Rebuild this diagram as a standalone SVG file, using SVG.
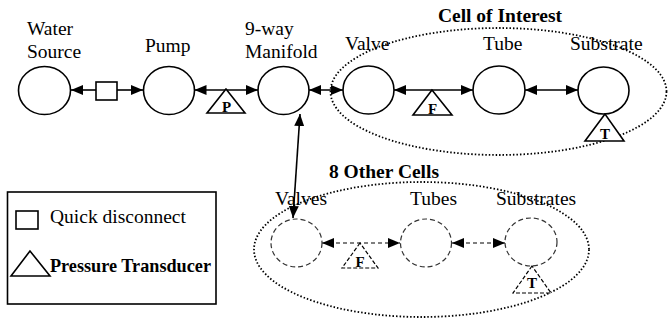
<svg xmlns="http://www.w3.org/2000/svg" width="668" height="322" viewBox="0 0 668 322">
<defs>
<marker id="ah" viewBox="0 0 12 10" refX="12" refY="5" markerWidth="12" markerHeight="10" markerUnits="userSpaceOnUse" orient="auto-start-reverse">
<path d="M0,0 L12,5 L0,10 Z" fill="#000"/>
</marker>
</defs>
<style>
.lbl{font-family:"Liberation Serif","Times New Roman",serif;font-size:19.5px;fill:#000}
.bold{font-family:"Liberation Serif","Times New Roman",serif;font-size:19.5px;font-weight:bold;fill:#000}
.sym{font-family:"Liberation Serif","Times New Roman",serif;font-size:15px;font-weight:bold;fill:#000;text-anchor:middle}
.node{fill:#fff;stroke:#000;stroke-width:1.6}
.dnode{fill:#fff;stroke:#333;stroke-width:1.2;stroke-dasharray:5 3}
.conn{stroke:#000;stroke-width:1.6;fill:none;marker-start:url(#ah);marker-end:url(#ah)}
.dconn{stroke:#000;stroke-width:1.2;fill:none;stroke-dasharray:4 3;marker-start:url(#ah);marker-end:url(#ah)}
.group{fill:none;stroke:#000;stroke-width:1.8;stroke-dasharray:1.5 2}
.tri{fill:#fff;stroke:#000;stroke-width:1.6}
.dtri{fill:#fff;stroke:#000;stroke-width:1.2;stroke-dasharray:4 2}
</style>
<rect width="668" height="322" fill="#fff"/>

<g id="cell-of-interest">
<ellipse class="group" cx="498.5" cy="91.5" rx="168" ry="63.5"/>
<text class="bold" x="500" y="22" text-anchor="middle">Cell of Interest</text>
</g>
<g id="other-cells">
<ellipse class="group" cx="421.5" cy="249.5" rx="167.5" ry="67.5"/>
<text class="bold" x="384" y="178" text-anchor="middle">8 Other Cells</text>
</g>

<g id="connectors">
<line x1="71" y1="90" x2="96" y2="90" stroke="#000" stroke-width="1.6" marker-start="url(#ah)"/>
<line x1="117" y1="90" x2="143" y2="90" stroke="#000" stroke-width="1.6" marker-end="url(#ah)"/>
<line class="conn" x1="194.5" y1="90" x2="258" y2="90"/>
<line class="conn" x1="309" y1="90" x2="343" y2="90"/>
<line class="conn" x1="394" y1="90" x2="473" y2="90"/>
<line class="conn" x1="525" y1="90" x2="578" y2="90"/>
<line class="conn" x1="300" y1="114" x2="293" y2="218"/>
<line class="dconn" x1="322" y1="243" x2="400" y2="243"/>
<line class="dconn" x1="452" y1="243" x2="505" y2="243"/>
</g>

<g id="water-source">
<ellipse class="node" cx="44.5" cy="90.5" rx="26" ry="24"/>
<text class="lbl" x="27" y="35">Water</text>
<text class="lbl" x="27" y="58">Source</text>
</g>
<g id="quick-disconnect">
<rect class="node" x="96" y="82" width="21" height="18"/>
</g>
<g id="pump">
<ellipse class="node" cx="169" cy="90.5" rx="25.5" ry="24"/>
<text class="lbl" x="145" y="52">Pump</text>
</g>
<g id="pressure-transducer">
<polygon class="tri" points="226,89 207,113 245,113"/>
<text class="sym" x="226.5" y="112">P</text>
</g>
<g id="manifold">
<ellipse class="node" cx="283.5" cy="90.5" rx="25.5" ry="24"/>
<text class="lbl" x="245" y="35">9-way</text>
<text class="lbl" x="245" y="58">Manifold</text>
</g>
<g id="valve">
<ellipse class="node" cx="368.5" cy="90" rx="25.5" ry="24"/>
<text class="lbl" x="345" y="50">Valve</text>
</g>
<g id="flow-meter">
<polygon class="tri" points="432,90 413,115 452,115"/>
<text class="sym" x="432.5" y="113.5">F</text>
</g>
<g id="tube">
<ellipse class="node" cx="499" cy="90" rx="26" ry="24"/>
<text class="lbl" x="483" y="50">Tube</text>
</g>
<g id="substrate">
<ellipse class="node" cx="603.5" cy="90.5" rx="25.5" ry="23.5"/>
<text class="lbl" x="570" y="50">Substrate</text>
</g>
<g id="temperature">
<polygon class="tri" points="605,114 585,141 624,141"/>
<text class="sym" x="605" y="139">T</text>
</g>

<g id="valves">
<ellipse class="dnode" cx="296.5" cy="243" rx="25.5" ry="24"/>
<text class="lbl" x="275" y="205">Valves</text>
</g>
<g id="flow-meter-others">
<polygon class="dtri" points="360,243 342,268 378,268"/>
<text class="sym" x="360" y="266.5">F</text>
</g>
<g id="tubes">
<ellipse class="dnode" cx="426" cy="243" rx="25.5" ry="24"/>
<text class="lbl" x="410" y="205">Tubes</text>
</g>
<g id="substrates">
<ellipse class="dnode" cx="531" cy="242" rx="26" ry="24"/>
<text class="lbl" x="496" y="205">Substrates</text>
</g>
<g id="temperature-others">
<polygon class="dtri" points="532,266 513,293 551,293"/>
<text class="sym" x="532" y="288">T</text>
</g>

<g id="legend">
<rect x="7.5" y="192" width="208.5" height="112" fill="#fff" stroke="#000" stroke-width="1.6"/>
<rect x="16" y="211" width="22" height="18" fill="#fff" stroke="#000" stroke-width="1.6"/>
<text class="lbl" x="50" y="223">Quick disconnect</text>
<polygon class="tri" points="30,251 11,276 50,276"/>
<text class="bold" x="50" y="272" textLength="161" lengthAdjust="spacingAndGlyphs">Pressure Transducer</text>
</g>
</svg>
